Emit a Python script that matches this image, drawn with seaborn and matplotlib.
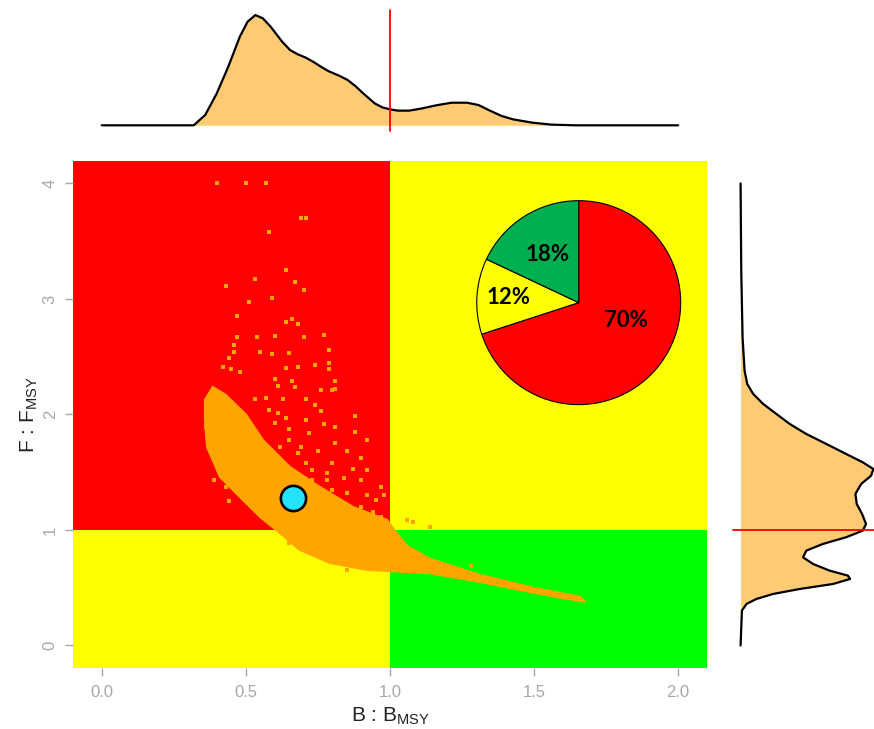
import numpy as np
import pandas as pd
import seaborn as sns
import matplotlib.pyplot as plt

# Densidad marginal de B/BMSY (panel superior, altura relativa)
dens_b_x = [0.0, 0.319, 0.359, 0.399, 0.439, 0.479, 0.506, 0.533, 0.559, 0.586, 0.626,
            0.653, 0.680, 0.706, 0.733, 0.760, 0.786, 0.826, 0.853, 0.880, 0.907,
            0.947, 0.973, 1.000, 1.027, 1.067, 1.107, 1.160, 1.214, 1.267, 1.307,
            1.347, 1.387, 1.427, 1.494, 1.561, 1.641, 2.0]
dens_b_y = [0.0, 0.0, 0.094, 0.29, 0.532, 0.804, 0.94, 1.0, 0.97, 0.894, 0.758,
            0.683, 0.644, 0.616, 0.577, 0.532, 0.492, 0.447, 0.411, 0.356, 0.29,
            0.199, 0.163, 0.145, 0.133, 0.133, 0.151, 0.181, 0.205, 0.205, 0.184,
            0.133, 0.085, 0.054, 0.024, 0.006, 0.0, 0.0]

# Densidad marginal de F/FMSY (panel derecho)
dens_f_y = [0.0, 0.302, 0.36, 0.403, 0.446, 0.489, 0.532, 0.576, 0.605, 0.648, 0.706,
            0.763, 0.821, 0.879, 0.937, 0.994, 1.052, 1.139, 1.225, 1.312, 1.398,
            1.47, 1.528, 1.586, 1.658, 1.745, 1.831, 1.918, 2.004, 2.091, 2.178,
            2.264, 2.38, 2.668, 3.245, 4.0]
dens_f_x = [0.0, 0.01, 0.045, 0.12, 0.245, 0.445, 0.695, 0.825, 0.808, 0.67, 0.545,
            0.47, 0.495, 0.62, 0.795, 0.92, 0.945, 0.915, 0.875, 0.865, 0.908,
            0.983, 1.0, 0.92, 0.795, 0.645, 0.495, 0.37, 0.27, 0.17, 0.095,
            0.05, 0.03, 0.015, 0.005, 0.0]

# Nube densa de puntos (contorno)
core_b = [0.385, 0.43, 0.50, 0.559, 0.653, 0.757, 0.872, 0.99, 1.02, 1.06, 1.139,
          1.3125, 1.486, 1.66, 1.677, 1.486, 1.3125, 1.139, 1.0, 0.92, 0.792,
          0.6875, 0.618, 0.549, 0.479, 0.41, 0.365, 0.358, 0.358]
core_f = [2.238, 2.17, 2.0, 1.779, 1.545, 1.372, 1.199, 1.087, 0.98, 0.86, 0.75,
          0.61, 0.506, 0.42, 0.377, 0.463, 0.55, 0.625, 0.645, 0.655, 0.714,
          0.827, 0.974, 1.113, 1.286, 1.459, 1.719, 1.952, 2.126]

# Puntos dispersos
pts_b = [0.40, 0.50, 0.57, 0.69, 0.71, 0.58, 0.64, 0.67, 0.70, 0.53, 0.43, 0.59, 0.51,
         0.47, 0.66, 0.64, 0.68, 0.77, 0.70, 0.60, 0.54, 0.47, 0.79, 0.65, 0.59, 0.55,
         0.46, 0.46, 0.44, 0.79, 0.74, 0.68, 0.64, 0.42, 0.45, 0.79, 0.48, 0.81, 0.60,
         0.66, 0.61, 0.67, 0.76, 0.80, 0.53, 0.57, 0.63, 0.71, 0.74, 0.88, 0.76, 0.58,
         0.81, 0.81, 0.88, 0.77, 0.71, 0.64, 0.61, 0.92, 0.81, 0.75, 0.85, 0.90, 0.80,
         0.87, 0.92, 0.84, 0.90, 0.97, 0.92, 0.98, 0.95, 0.73, 0.78, 0.69, 0.65, 0.72,
         1.06, 1.08, 1.14, 1.28, 1.64, 1.66, 0.36, 0.39, 0.43, 0.44,
         0.65, 0.69, 0.73, 0.83, 0.85, 0.78, 0.73, 0.71, 0.68, 0.62, 0.60, 0.65,
         0.80, 0.85, 0.90, 0.94, 0.97, 0.78]
pts_f = [4.00, 4.00, 4.00, 3.70, 3.70, 3.58, 3.25, 3.15, 3.08, 3.17, 3.11, 3.01, 2.97,
         2.85, 2.83, 2.80, 2.78, 2.69, 2.67, 2.68, 2.67, 2.67, 2.56, 2.53, 2.52, 2.54,
         2.60, 2.54, 2.49, 2.45, 2.43, 2.41, 2.40, 2.41, 2.39, 2.39, 2.37, 2.29, 2.31,
         2.29, 2.25, 2.24, 2.21, 2.21, 2.13, 2.14, 2.13, 2.13, 2.08, 1.99, 2.03, 2.04,
         2.22, 1.89, 1.85, 1.92, 1.95, 1.97, 2.01, 1.78, 1.75, 1.68, 1.68, 1.62, 1.58,
         1.53, 1.52, 1.45, 1.43, 1.37, 1.30, 1.30, 1.26, 1.52, 1.49, 1.72, 1.87, 1.84,
         1.09, 1.07, 1.03, 0.69, 0.41, 0.39, 1.89, 1.43, 1.37, 1.25,
         0.885, 0.84, 0.80, 0.74, 0.654, 0.77, 1.433, 1.577, 1.664, 1.72, 1.924, 1.779,
         1.346, 1.318, 1.20, 1.158, 1.115, 1.433]

# Estado actual
actual_b = [0.664]
actual_f = [1.274]

# Porcentajes por cuadrante
pie_vals = [70, 12, 18]
pie_cols = ['#FF0000', '#FFFF00', '#00B050']

sns.set_style("white")
plt.rcParams['font.family'] = ['Liberation Sans', 'DejaVu Sans']
plt.rcParams['mathtext.fontset'] = 'custom'
plt.rcParams['mathtext.rm'] = 'Liberation Sans'
plt.rcParams['mathtext.it'] = 'Liberation Sans:italic'

xlim = (-0.1, 2.1)
ylim = (-0.195, 4.195)
relleno = '#FECB74'

fig = plt.figure(figsize=(8.74, 7.29), dpi=100)
ax = fig.add_axes([0.0835, 0.0837, 0.7254, 0.6955])
ax_top = fig.add_axes([0.0835, 0.8148, 0.7254, 0.1783])
ax_der = fig.add_axes([0.8352, 0.0837, 0.1648, 0.6955])
ax_pie = fig.add_axes([0.5443, 0.4431, 0.2357, 0.2835])

# Cuadrantes
ax.fill_between([xlim[0], 1], 1, ylim[1], color='#FF0000', lw=0, zorder=0)
ax.fill_between([1, xlim[1]], 1, ylim[1], color='#FFFF00', lw=0, zorder=0)
ax.fill_between([xlim[0], 1], ylim[0], 1, color='#FFFF00', lw=0, zorder=0)
ax.fill_between([1, xlim[1]], ylim[0], 1, color='#00FF00', lw=0, zorder=0)

ax.fill(core_b, core_f, color='#FFA500', lw=1.5, zorder=1)
df_pts = pd.DataFrame({'b': pts_b, 'f': pts_f})
sns.scatterplot(data=df_pts, x='b', y='f', ax=ax, color='#FFA500', marker='s',
                s=12, linewidth=0, zorder=2)
sns.scatterplot(x=actual_b, y=actual_f, ax=ax, color='#22E3FA', s=330,
                edgecolor='black', linewidth=1.9, zorder=3)

ax.set_xlim(xlim)
ax.set_ylim(ylim)
ax.set_xticks([0, 0.5, 1.0, 1.5, 2.0])
ax.set_xticklabels(['0.0', '0.5', '1.0', '1.5', '2.0'])
ax.set_yticks([0, 1, 2, 3, 4])
ax.set_yticklabels(['0', '1', '2', '3', '4'])
for s in ax.spines.values():
    s.set_visible(False)
ax.tick_params(axis='both', colors='#A8A8A8', labelsize=12, length=6, width=1,
               direction='out', bottom=True, left=True)
ax.tick_params(axis='x', pad=6)
ax.tick_params(axis='y', pad=5)
for lab in ax.get_yticklabels():
    lab.set_rotation(90)
    lab.set_va('center')
ax.set_xlabel(r'B : $\mathrm{B_{MSY}}$', fontsize=15, color='#222222', labelpad=4)
ax.set_ylabel(r'F : $\mathrm{F_{MSY}}$', fontsize=15, color='#222222', labelpad=2)

# Densidad superior
ax_top.fill_between(dens_b_x, 0, dens_b_y, color=relleno, lw=0)
sns.lineplot(x=dens_b_x, y=dens_b_y, ax=ax_top, color='black', lw=1.6,
             sort=False, estimator=None)
ax_top.plot([1, 1], [-0.049, 1.045], color='#FF0000', lw=1.3)
ax_top.set_xlim(xlim)
ax_top.set_ylim(-0.088, 1.091)
ax_top.axis('off')

# Densidad derecha
ax_der.fill_betweenx(dens_f_y, 0, dens_f_x, color=relleno, lw=0)
sns.lineplot(x=dens_f_x, y=dens_f_y, ax=ax_der, color='black', lw=1.6,
             sort=False, estimator=None, orient='y')
ax_der.plot([-0.055, 1.005], [1, 1], color='#FF0000', lw=1.3)
ax_der.set_xlim(-0.080, 1.005)
ax_der.set_ylim(ylim)
ax_der.axis('off')

# Tarta
ax_pie.pie(pie_vals, colors=pie_cols, startangle=90, counterclock=False,
           wedgeprops={'edgecolor': 'black', 'linewidth': 0.8})
ax_pie.set_xlim(-1.01, 1.01)
ax_pie.set_ylim(-1.01, 1.01)
pos_txt = [(0.461, -0.173), (-0.687, 0.052), (-0.308, 0.473)]
for v, (tx, ty) in zip(pie_vals, pos_txt):
    ax_pie.text(tx, ty, f"{v}%", ha='center', va='center', fontsize=16,
                fontweight='bold', family=['Lato', 'DejaVu Sans'], color='black')

plt.savefig('out.png', dpi=100)
plt.close()
